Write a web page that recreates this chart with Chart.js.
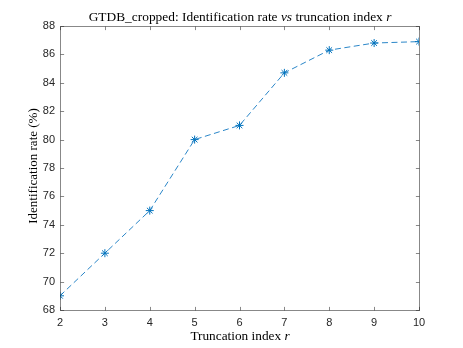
<!DOCTYPE html>
<html><head><meta charset="utf-8">
<script src="https://cdn.jsdelivr.net/npm/chart.js@4"></script>
<style>html,body{margin:0;padding:0;background:#fff}#wrap{width:463px;height:348px}</style>
</head><body><div id="wrap"><canvas id="c" width="463" height="348"></canvas></div>
<script>
const truncationIndex = [2, 3, 4, 5, 6, 7, 8, 9, 10];
const identificationRate = [69.0, 72.0, 75.0, 80.0, 81.0, 84.7, 86.3, 86.8, 86.9];
const xTicks = [2, 3, 4, 5, 6, 7, 8, 9, 10];
const yTicks = [68, 70, 72, 74, 76, 78, 80, 82, 84, 86, 88];
const titleParts = [["GTDB_cropped: Identification rate ", false], ["vs", true], [" truncation index ", false], ["r", true]];
const xTitleParts = [["Truncation index ", false], ["r", true]];
const yTitleText = "Identification rate (%)";

const SERIF = '"Liberation Serif", "DejaVu Serif", serif';
const SANS = '"Liberation Sans", Arial, sans-serif';

function drawParts(ctx, parts, cx, baseline, size) {
  let total = 0;
  const widths = parts.map(([t, it]) => {
    ctx.font = (it ? 'italic ' : '') + size + 'px ' + SERIF;
    const w = ctx.measureText(t).width; total += w; return w;
  });
  let xx = cx - total / 2;
  parts.forEach(([t, it], i) => {
    ctx.font = (it ? 'italic ' : '') + size + 'px ' + SERIF;
    ctx.fillText(t, xx, baseline); xx += widths[i];
  });
}

const boxPlugin = {
  id: 'matlabBox',
  afterDraw(chart) {
    const { ctx, chartArea: a, scales: { x, y } } = chart;
    ctx.save();
    ctx.strokeStyle = 'rgba(38,38,38,0.55)';
    ctx.lineWidth = 1;
    const L = Math.round(a.left) + 0.5, R = Math.round(a.right) + 0.5;
    const T = Math.round(a.top) + 0.5, B = Math.round(a.bottom) + 0.5;
    ctx.strokeRect(L, T, R - L, B - T);
    const tl = 3.6;
    ctx.beginPath();
    xTicks.forEach(v => {
      const px = Math.round(x.getPixelForValue(v)) + 0.5;
      ctx.moveTo(px, B); ctx.lineTo(px, B - tl);
      ctx.moveTo(px, T); ctx.lineTo(px, T + tl);
    });
    yTicks.forEach(v => {
      const py = Math.round(y.getPixelForValue(v)) + 0.5;
      ctx.moveTo(L, py); ctx.lineTo(L + tl, py);
      ctx.moveTo(R, py); ctx.lineTo(R - tl, py);
    });
    ctx.stroke();
    ctx.fillStyle = '#000';
    ctx.textBaseline = 'alphabetic';
    ctx.textAlign = 'left';
    const cx = (a.left + a.right) / 2 + 0.5;
    drawParts(ctx, titleParts, cx, 20.5, 13.4);
    drawParts(ctx, xTitleParts, cx, 340, 13.3);
    ctx.translate(36.5, (a.top + a.bottom) / 2 - 2);
    ctx.rotate(-Math.PI / 2);
    ctx.font = '13px ' + SERIF;
    ctx.textAlign = 'center';
    ctx.fillText(yTitleText, 0, 0);
    ctx.restore();
  }
};

new Chart(document.getElementById('c'), {
  type: 'line',
  data: {
    datasets: [{
      data: truncationIndex.map((v, i) => ({ x: v, y: identificationRate[i] })),
      borderColor: '#2a86c8',
      backgroundColor: '#0072BD',
      borderWidth: 1,
      borderDash: [6, 3.5],
      pointStyle: 'star',
      pointRadius: 4,
      pointBorderWidth: 1,
      pointBorderColor: '#0072BD',
      fill: false,
      tension: 0
    }]
  },
  options: {
    responsive: false,
    devicePixelRatio: 1,
    animation: false,
    layout: { padding: { top: 26, right: 44, bottom: 0, left: 0 } },
    plugins: { legend: { display: false }, title: { display: false }, tooltip: { enabled: false } },
    scales: {
      x: {
        type: 'linear', min: 2, max: 10,
        afterFit: s => { s.height = 38; },
        afterBuildTicks: s => { s.ticks = xTicks.map(v => ({ value: v })); },
        grid: { display: false, drawTicks: false },
        border: { display: false },
        ticks: { font: { family: SANS, size: 11 }, color: '#262626', padding: 6, maxRotation: 0 }
      },
      y: {
        type: 'linear', min: 68, max: 88,
        afterFit: s => { s.width = 60; },
        afterBuildTicks: s => { s.ticks = yTicks.map(v => ({ value: v })); },
        grid: { display: false, drawTicks: false },
        border: { display: false },
        ticks: { font: { family: SANS, size: 11 }, color: '#262626', padding: 5 }
      }
    }
  },
  plugins: [boxPlugin]
});
</script>
</body></html>
